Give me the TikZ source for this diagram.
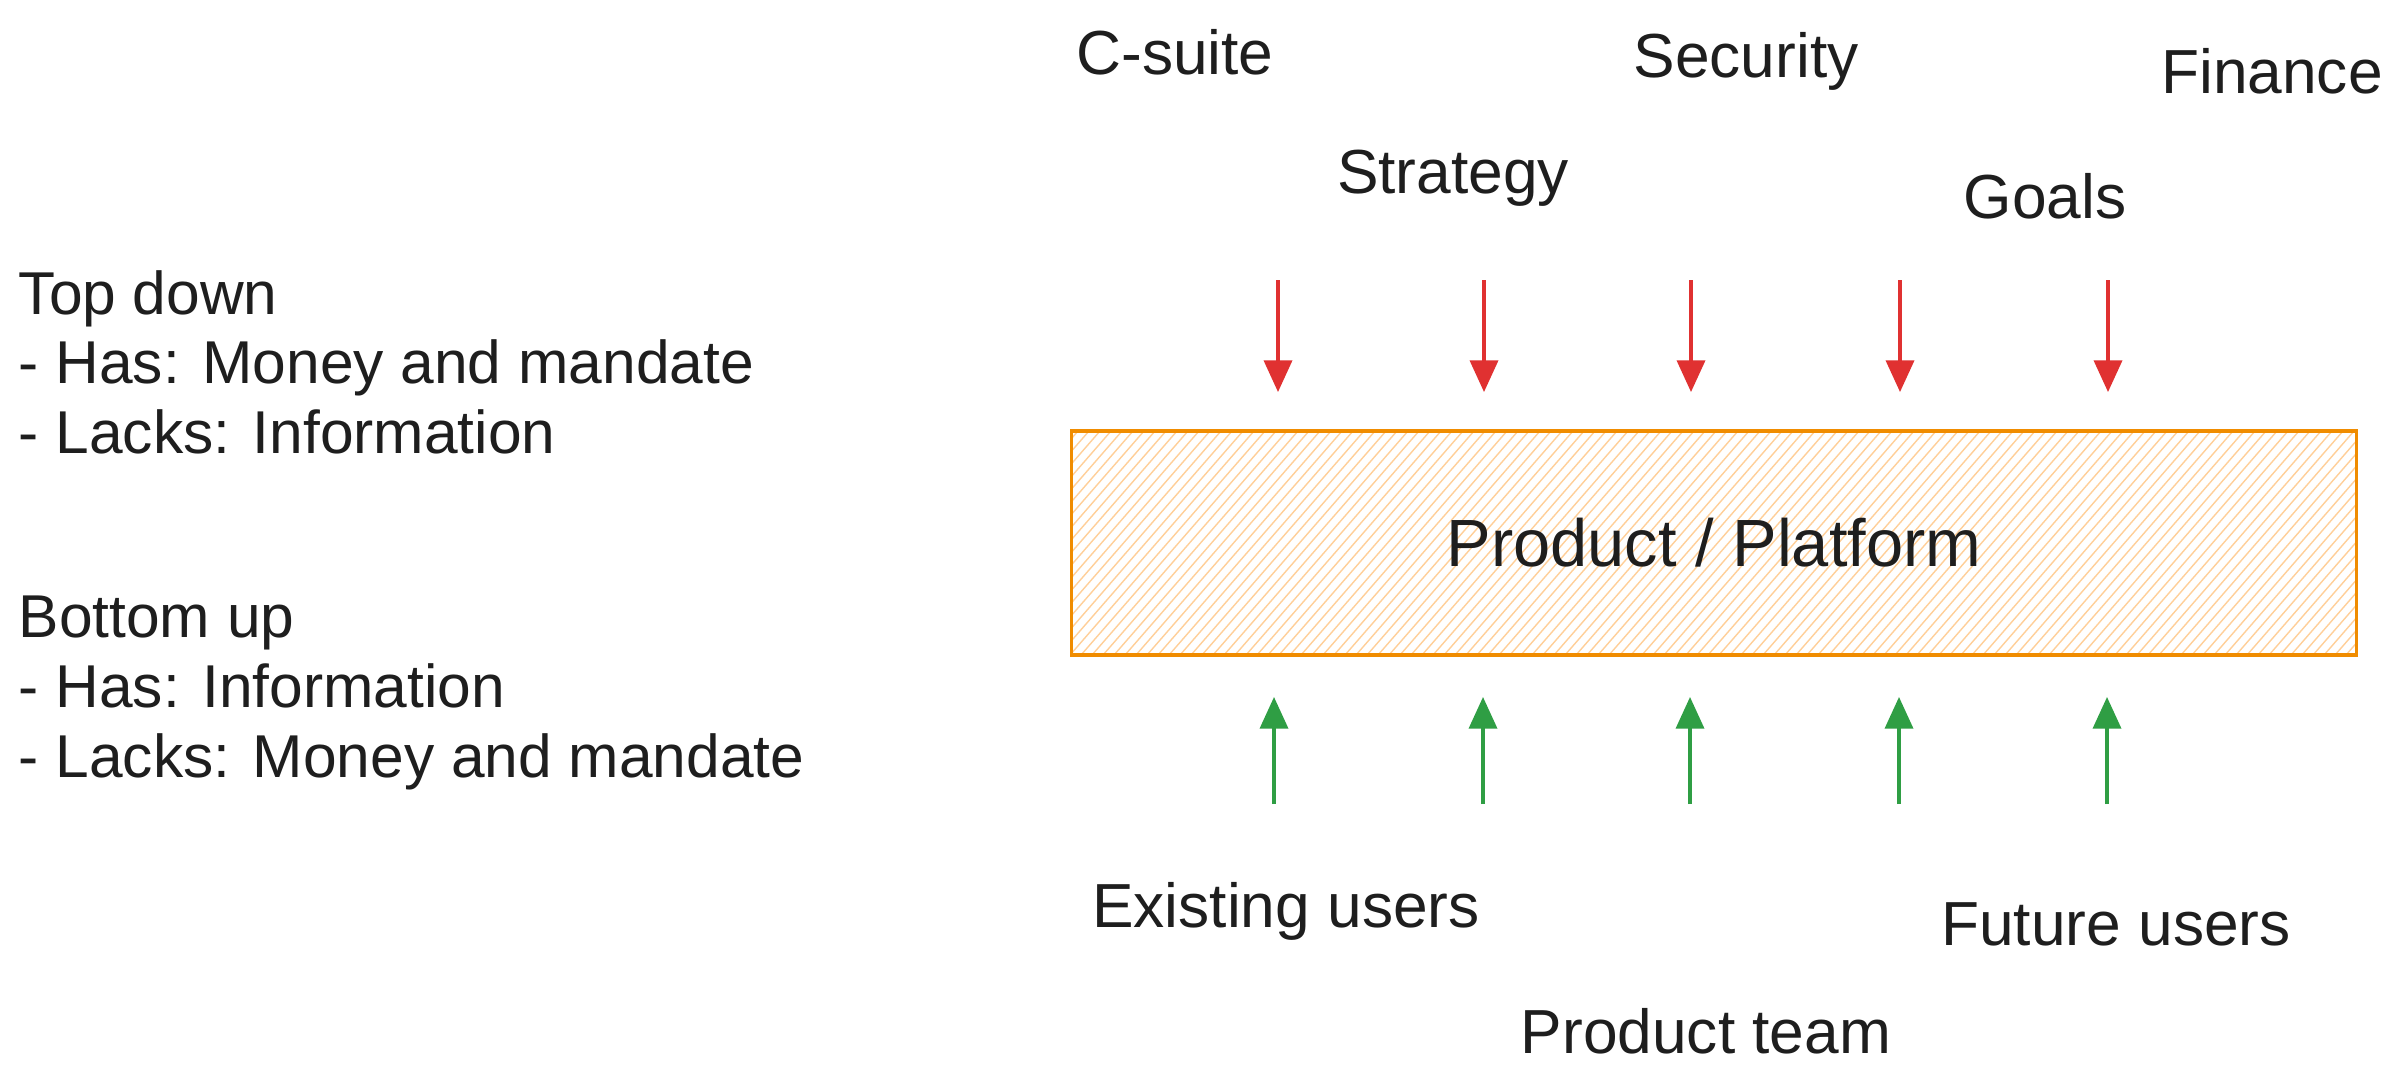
\documentclass[tikz,border=0pt]{standalone}
\usepackage{fontspec}
\setmainfont{Liberation Sans}
\usetikzlibrary{arrows.meta}
\definecolor{ink}{HTML}{1E1E1E}
\definecolor{topred}{HTML}{E03131}
\definecolor{botgreen}{HTML}{2F9E44}
\definecolor{boxorange}{HTML}{F08C00}
\definecolor{hatchcol}{HTML}{FFC078}
\begin{document}
\begin{tikzpicture}[x=0.01cm,y=-0.01cm,
  lbl/.style={text=ink, font=\fontsize{17.7}{20}\selectfont, inner sep=0pt, text height=0.72em, text depth=0pt},
  note/.style={text=ink, font=\fontsize{17.2}{19.8}\selectfont, inner sep=0pt, align=left, anchor=west},
  downarrow/.style={draw=topred, line width=0.9pt, -{Triangle[length=9pt,width=8pt]}},
  uparrow/.style={draw=botgreen, line width=0.9pt, -{Triangle[length=9pt,width=8pt]}},
  platform/.style={draw=boxorange, line width=1pt, minimum width=12.84cm, minimum height=2.24cm, inner sep=0pt, text=ink, font=\fontsize{19}{22}\selectfont},
  hatchline/.style={draw=hatchcol, line width=0.4pt, draw opacity=0.75}
]
\useasboundingbox (0,0) rectangle (2391,1090);
\fill[white] (0,0) rectangle (2391,1090);

% hachure fill
\begin{scope}
  \clip (1072,431) rectangle (2356,655);
  \foreach \i in {0,...,136}
    \draw[hatchline] ({872+\i*11},655) -- ++(195,-224);
\end{scope}
\node[platform] (box) at (1714,543) {Product / Platform};

% top labels
\node[lbl] (csuite) at (1175,62) {C-suite};
\node[lbl] (security) at (1746,65) {Security};
\node[lbl] (finance) at (2272,81) {Finance};
\node[lbl] (strategy) at (1453,181) {Strategy};
\node[lbl] (goals) at (2045,206) {Goals};

% bottom labels
\node[lbl] (existing) at (1286,915) {Existing users};
\node[lbl] (future) at (2116,933) {Future users};
\node[lbl] (team) at (1706,1041) {Product team};

% left notes
\node[note] (topdown) at (18,362) {Top down\\- Has: Money and mandate\\- Lacks: Information};
\node[note] (bottomup) at (18,693) {Bottom up\\- Has: Information\\- Lacks: Money and mandate};

% arrows
\foreach \n/\xr/\xg in {1/1278/1274, 2/1484/1483, 3/1691/1690, 4/1900/1899, 5/2108/2107} {
  \coordinate (r\n s) at (\xr,280);
  \coordinate (r\n e) at (\xr,392);
  \draw[downarrow] (r\n s) -- (r\n e);
  \coordinate (g\n s) at (\xg,804);
  \coordinate (g\n e) at (\xg,697);
  \draw[uparrow] (g\n s) -- (g\n e);
}
\end{tikzpicture}
\end{document}
